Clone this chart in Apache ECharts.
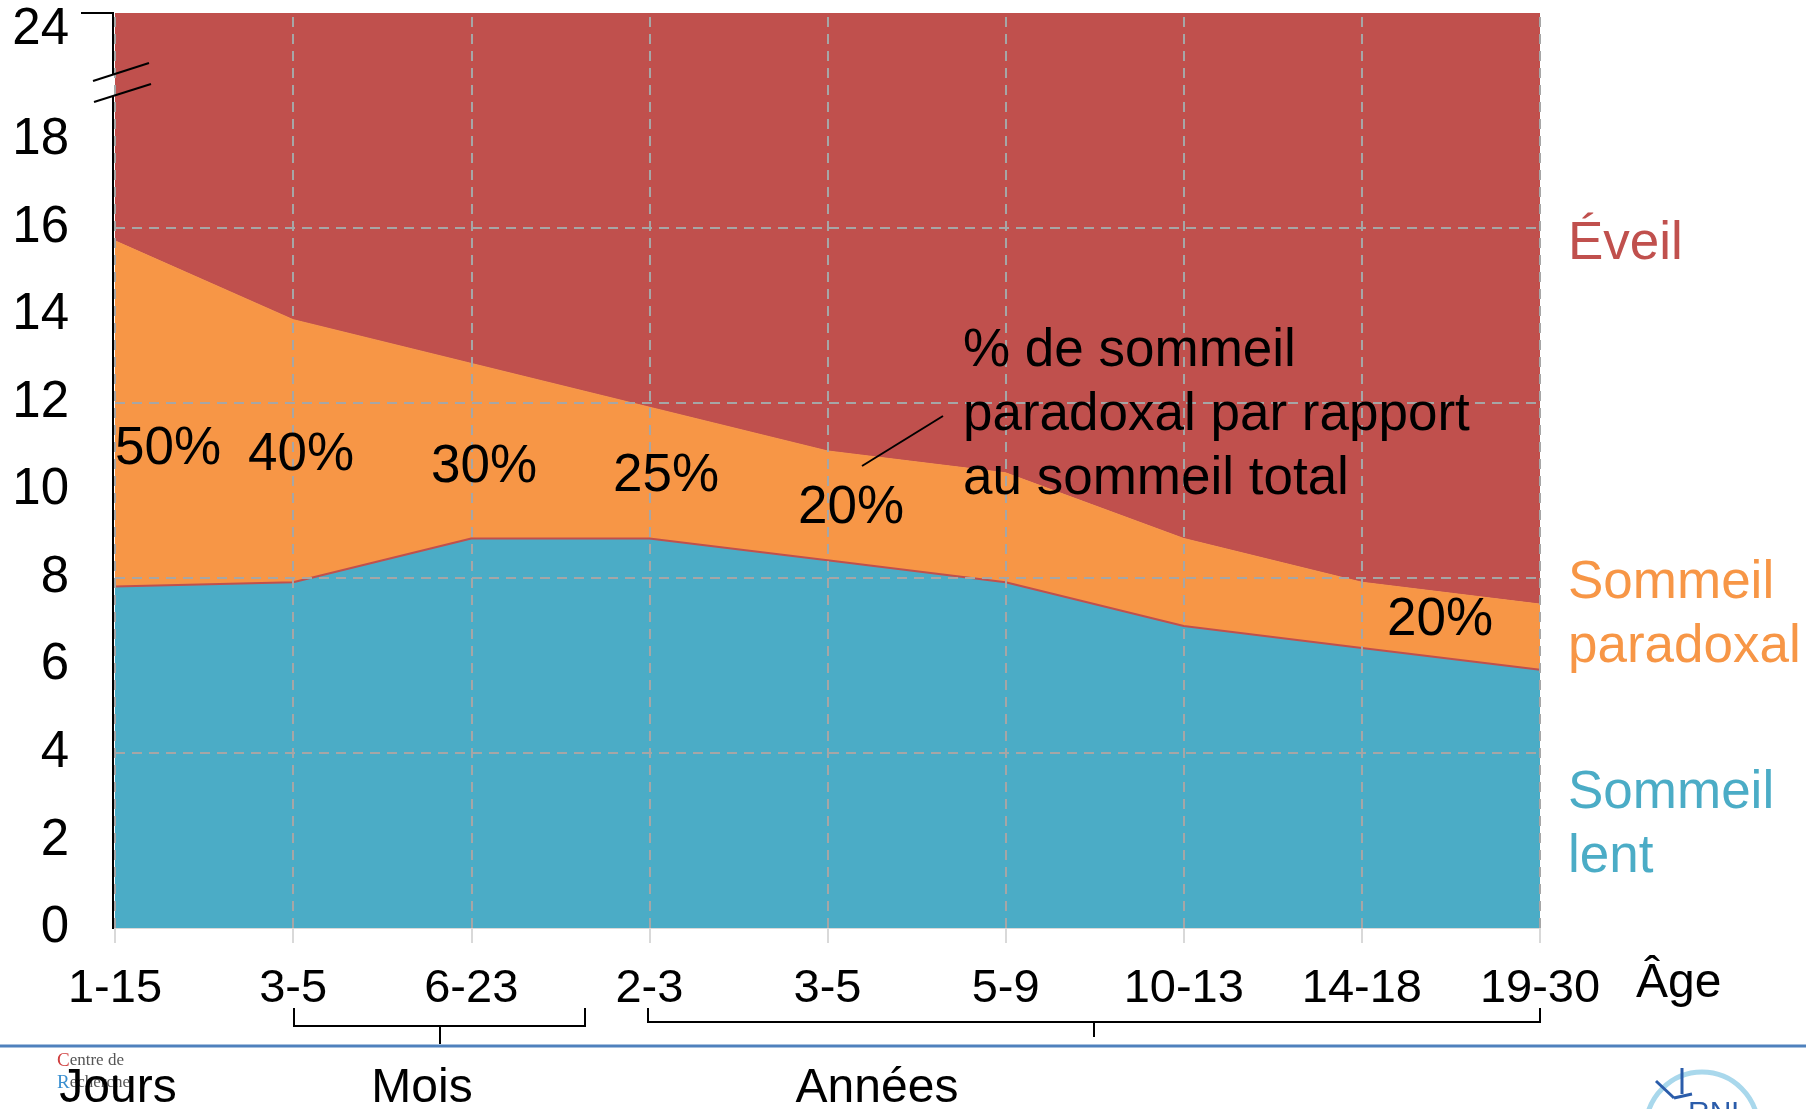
<!DOCTYPE html>
<html>
<head>
<meta charset="utf-8">
<title>Sommeil selon l'âge</title>
<script src="https://cdn.jsdelivr.net/npm/echarts@6/dist/echarts.min.js"></script>
<style>
html, body { margin: 0; padding: 0; background: #fff; }
#chart { width: 1806px; height: 1109px; }
</style>
</head>
<body>
<div id="chart"></div>
<script>
// heures par jour, empilées jusqu'à 24 h
const ages = ['1-15', '3-5', '6-23', '2-3', '3-5', '5-9', '10-13', '14-18', '19-30']
const sommeilLent = [7.8, 7.9, 8.9, 8.9, 8.4, 7.9, 6.9, 6.4, 5.9]
const sommeilParadoxal = [7.9, 6.0, 4.0, 3.0, 2.5, 2.5, 2.0, 1.5, 1.5]
const eveil = [8.3, 10.1, 11.1, 12.1, 13.1, 13.6, 15.1, 16.1, 16.6]
const yTickLabels = [0, 2, 4, 6, 8, 10, 12, 14, 16, 18, 24]
const gridValues = [4, 8, 12, 16]
const pctLabels = ['50%', '40%', '30%', '25%', '20%', '20%']

const FONT = "'Liberation Sans', Arial, sans-serif"
const RED = '#C0504D'
const ORANGE = '#F79646'
const BLUE = '#4BACC6'
const GRID_C = '#A6A6A6'

// où poser les pourcentages (px)
const pctPos = [[168, 449], [301, 455], [484, 467], [666, 476], [851, 508], [1440, 620]]

function txt(x, y, s, size, color, align) {
  return {
    type: 'text', x: x, y: y, z: 100,
    style: {
      text: s, fill: color || '#000', font: size + 'px ' + FONT,
      textAlign: align || 'center', textVerticalAlign: 'middle'
    }
  }
}
function seg(x1, y1, x2, y2, color, w) {
  return {
    type: 'line', z: 100,
    shape: { x1: x1, y1: y1, x2: x2, y2: y2 },
    style: { stroke: color || '#000', lineWidth: w || 2 }
  }
}
function bracket(x1, x2, yTop, yBar, xMid, yMid) {
  return [
    { type: 'polyline', z: 100, shape: { points: [[x1, yTop], [x1, yBar], [x2, yBar], [x2, yTop]] },
      style: { stroke: '#000', lineWidth: 2, fill: null } },
    seg(xMid, yBar, xMid, yMid)
  ]
}

const graphics = []
// axe vertical cassé
graphics.push(seg(81, 13, 113, 13))
graphics.push(seg(113, 12, 113, 75))
graphics.push(seg(113, 96, 113, 929))
graphics.push(seg(93, 81, 149, 63))
graphics.push(seg(94, 102, 151, 84))
// pourcentages
pctLabels.forEach((s, i) => graphics.push(txt(pctPos[i][0], pctPos[i][1], s, 53)))
graphics.push(seg(862, 466, 943, 416))
graphics.push({
  type: 'text', x: 963, y: 415, z: 100,
  style: {
    text: '% de sommeil\nparadoxal par rapport\nau sommeil total',
    fill: '#000', font: '53px ' + FONT, lineHeight: 64,
    textAlign: 'left', textVerticalAlign: 'middle'
  }
})
// légende à droite
graphics.push(txt(1568, 244, 'Éveil', 53, RED, 'left'))
graphics.push(txt(1568, 583, 'Sommeil', 53, ORANGE, 'left'))
graphics.push(txt(1568, 647, 'paradoxal', 53, ORANGE, 'left'))
graphics.push(txt(1568, 793, 'Sommeil', 53, BLUE, 'left'))
graphics.push(txt(1568, 857, 'lent', 53, BLUE, 'left'))
graphics.push(txt(1636, 984, 'Âge', 48, '#000', 'left'))
// accolades
bracket(294, 585, 1008, 1026, 440, 1044).forEach(g => graphics.push(g))
bracket(648, 1540, 1008, 1022, 1094, 1037).forEach(g => graphics.push(g))
graphics.push(seg(0, 1046, 1806, 1046, '#4F81BD', 3))
// logos
graphics.push({
  type: 'text', x: 57, y: 1072, z: 100,
  style: {
    text: '{r|C}{g|entre de}\n{b|R}{g|echerche}', lineHeight: 22,
    textAlign: 'left', textVerticalAlign: 'middle',
    rich: {
      r: { fill: '#D04040', font: '19px serif' },
      b: { fill: '#3A8FD0', font: '19px serif' },
      g: { fill: '#555', font: '17px serif' }
    }
  }
})
graphics.push({ type: 'circle', z: 100, shape: { cx: 1702, cy: 1128, r: 56 }, style: { stroke: '#A9D8EC', lineWidth: 5, fill: null } })
graphics.push(seg(1682, 1068, 1682, 1094, '#2A5CAA', 3))
graphics.push(seg(1656, 1081, 1674, 1098, '#2A5CAA', 3))
graphics.push(seg(1674, 1098, 1692, 1094, '#2A5CAA', 3))
graphics.push({ type: 'text', x: 1688, y: 1099, z: 100, style: { text: 'RNL', fill: '#2A5CAA', font: '30px ' + FONT, textAlign: 'left', textVerticalAlign: 'top' } })
// textes du bas
graphics.push(txt(118, 1089, 'Jours', 48))
graphics.push(txt(422, 1089, 'Mois', 48))
graphics.push(txt(877, 1089, 'Années', 48))

const gridLines = gridValues.map(v => ({ yAxis: v }))
  .concat(ages.map((a, i) => ({ xAxis: i })))

const option = {
  animation: false,
  grid: { left: 115, right: 266, top: 13, bottom: 181 },
  xAxis: {
    type: 'category',
    boundaryGap: false,
    data: ages,
    axisLine: { lineStyle: { color: '#D9D9D9', width: 2 } },
    axisTick: { show: true, length: 15, lineStyle: { color: '#D9D9D9', width: 2 } },
    axisLabel: { interval: 0, margin: 38, color: '#000', fontSize: 47, fontFamily: FONT },
    splitLine: { show: false }
  },
  yAxis: {
    type: 'value',
    min: 0,
    max: 24,
    interval: 2,
    offset: 2,
    breaks: [{ start: 18, end: 24, gap: '13.9%' }],
    breakArea: { show: false, expandOnClick: false },
    axisLine: { show: false },
    axisTick: { show: false },
    splitLine: { show: false },
    axisLabel: {
      margin: 44, color: '#000', fontSize: 51, fontFamily: FONT,
      formatter: v => yTickLabels.indexOf(v) < 0 ? '' : (v === 24 ? '{top|24}' : String(v)),
      rich: { top: { fontSize: 51, fontFamily: FONT, color: '#000', padding: [34, 0, 0, 0] } }
    }
  },
  series: [
    {
      name: 'Sommeil lent', type: 'line', stack: 'total', data: sommeilLent,
      symbol: 'none', z: 3,
      lineStyle: { color: RED, width: 2 },
      areaStyle: { color: BLUE, opacity: 1 }
    },
    {
      name: 'Sommeil paradoxal', type: 'line', stack: 'total', data: sommeilParadoxal,
      symbol: 'none', z: 2,
      lineStyle: { color: ORANGE, width: 1 },
      areaStyle: { color: ORANGE, opacity: 1 }
    },
    {
      name: 'Éveil', type: 'line', stack: 'total', data: eveil,
      symbol: 'none', z: 2,
      lineStyle: { width: 0 },
      areaStyle: { color: RED, opacity: 1 },
      markLine: {
        silent: true, z: 5,
        symbol: ['none', 'none'],
        label: { show: false },
        lineStyle: { color: GRID_C, type: [10, 7], width: 2 },
        data: gridLines
      }
    }
  ],
  graphic: graphics
}

const chart = echarts.init(document.getElementById('chart'))
chart.setOption(option)
</script>
</body>
</html>
